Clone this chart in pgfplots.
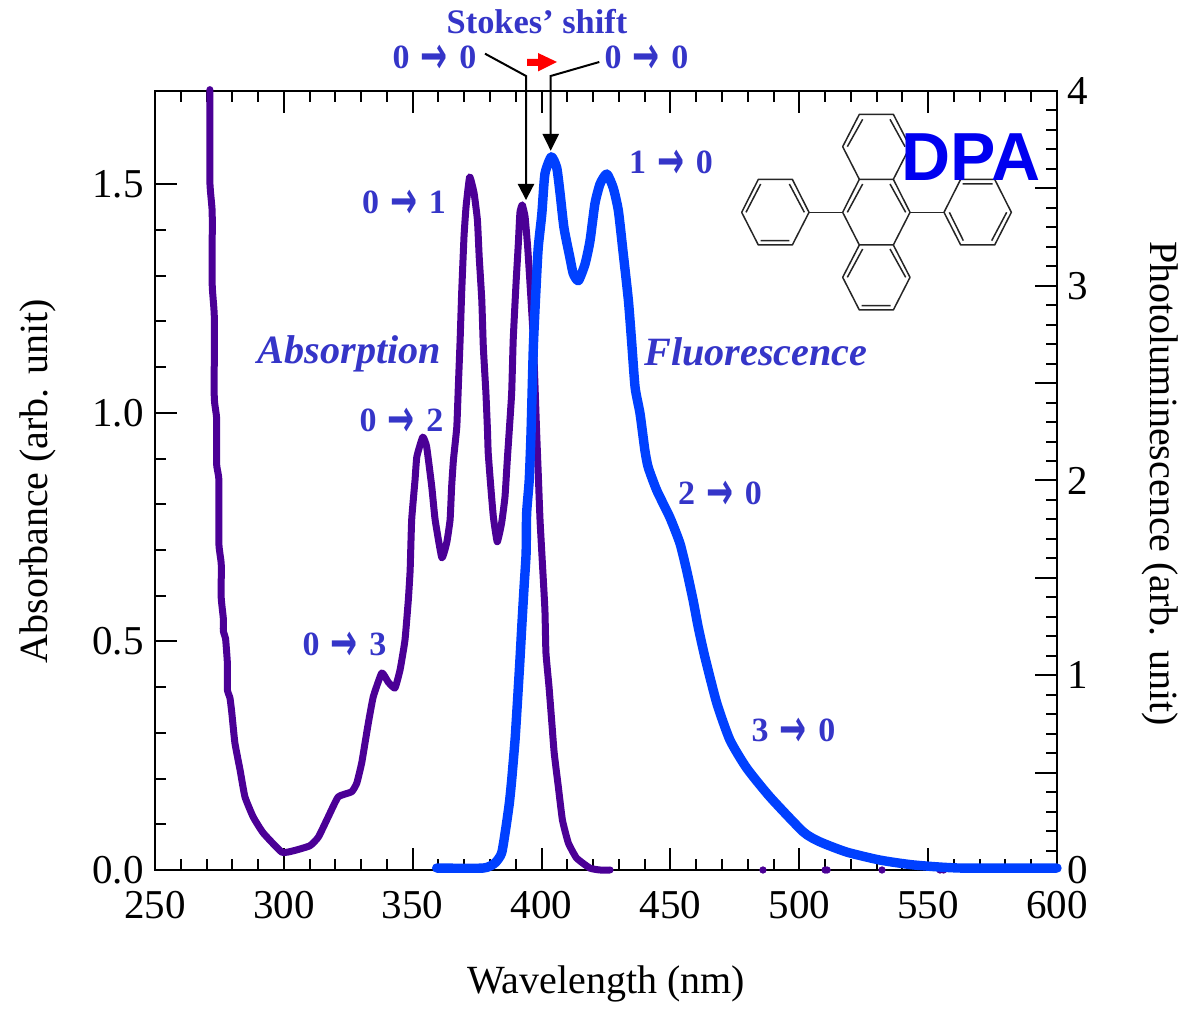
\documentclass[border=0pt]{standalone}
\usepackage{pgfplots}
\pgfplotsset{compat=1.18}
\usepackage{fontspec}
\setmainfont{Liberation Serif}
\newfontfamily\arw{DejaVu Sans}
\newfontfamily\helv{Liberation Sans}
\definecolor{abscol}{RGB}{75,0,150}
\definecolor{plcol}{RGB}{0,64,255}
\definecolor{txtcol}{RGB}{53,53,200}
\newcommand\arr[2]{\fontsize{17}{17}\selectfont\bfseries #1\,\,\raisebox{-0.14em}{\scalebox{0.95}[1.55]{\arw\fontsize{17}{17}\selectfont →}}\,\,#2}
\pgfplotstableread{
wl A
271.3 1.707
271.3 1.505
272.2 1.438
272.2 1.280
273.0 1.212
273.0 1.033
273.9 0.989
273.9 0.888
274.8 0.853
274.8 0.713
275.7 0.670
275.7 0.595
276.5 0.551
276.5 0.523
277.4 0.505
278.1 0.451
278.1 0.394
279.1 0.376
279.8 0.344
281.0 0.278
283.0 0.219
284.9 0.160
288.1 0.116
292.0 0.081
299.2 0.039
303.7 0.042
310.1 0.053
313.4 0.072
317.2 0.116
321.1 0.160
326.3 0.171
328.3 0.190
330.2 0.234
331.5 0.278
332.8 0.322
334.7 0.379
338.0 0.431
340.5 0.411
343.1 0.398
345.1 0.438
347.0 0.503
348.3 0.591
349.0 0.656
349.6 0.766
350.9 0.853
351.6 0.904
353.9 0.947
355.4 0.926
357.4 0.838
358.7 0.766
361.3 0.683
363.2 0.716
364.5 0.766
365.1 0.838
365.8 0.897
367.1 0.969
367.7 1.057
368.4 1.160
369.0 1.263
369.9 1.385
370.7 1.451
372.1 1.516
373.8 1.481
375.1 1.422
375.8 1.341
376.8 1.247
377.4 1.144
378.4 1.044
379.0 0.963
379.3 0.912
380.3 0.838
381.3 0.772
382.8 0.718
384.5 0.759
385.8 0.816
386.7 0.897
387.4 0.956
388.4 1.044
389.0 1.160
390.1 1.284
391.0 1.372
391.6 1.438
392.5 1.455
393.6 1.429
394.6 1.363
395.5 1.284
396.8 1.160
398.1 0.956
398.7 0.869
399.4 0.766
400.4 0.663
401.3 0.569
401.7 0.475
402.9 0.400
403.9 0.328
404.9 0.256
406.5 0.182
408.1 0.109
410.4 0.059
413.6 0.026
418.8 0.004
422.7 0
426.6 0
}\absdata
\pgfplotstableread{
wl A
485.9 0
510.0 0
510.8 0
532.1 0
554.6 0
556.0 0
}\absdots
\pgfplotstableread{
wl P
359.3 0.010
377.4 0.010
381.9 0.036
384.5 0.087
386.2 0.221
387.5 0.344
388.4 0.462
389.7 0.667
390.6 0.856
391.6 1.077
392.3 1.246
393.2 1.451
394.0 1.626
394.2 1.831
395.2 2.000
395.9 2.241
396.8 2.682
397.8 2.974
398.7 3.195
400.1 3.369
401.3 3.574
403.8 3.662
405.9 3.605
407.2 3.472
408.7 3.297
411.0 3.144
412.3 3.062
414.3 3.026
416.9 3.113
418.8 3.231
420.7 3.421
422.7 3.523
425.3 3.574
427.8 3.503
429.8 3.385
431.7 3.164
433.7 2.923
435.0 2.703
436.3 2.477
438.2 2.344
440.1 2.154
441.4 2.067
444.7 1.949
449.8 1.810
453.7 1.677
456.3 1.538
458.8 1.385
460.8 1.246
463.4 1.092
468.0 0.856
473.1 0.667
479.6 0.523
488.7 0.374
501.6 0.195
508.1 0.144
518.4 0.092
531.3 0.051
544.3 0.026
562.4 0.010
600.0 0.010
}\pldata
\pgfplotsset{
  base/.style={
    at={(77.5pt,68.5pt)}, anchor=origin,
    scale only axis, width=451pt, height=389.5pt,
    axis line style={line width=1pt}, clip=false,
    xmin=250, xmax=600,
    tick align=inside,
    tick style={black, line width=1pt},
    major tick length=11pt, minor tick length=5.5pt,
    /pgf/number format/assume math mode=true,
    tick label style={font=\fontsize{20.5}{20.5}\selectfont},
    label style={font=\fontsize{20}{20}\selectfont},
  }
}
\begin{document}
\begin{tikzpicture}[x=1pt,y=1pt]
\path (0,0) rectangle (600,503.5);
\begin{axis}[base,
  ymin=0, ymax=1.704,
  xtick={250,300,...,600}, minor x tick num=4,
  xtick pos=both,
  ytick={0,0.5,1,1.5}, minor y tick num=4, ytick pos=left,
  yticklabels={0.0,0.5,1.0,1.5},
  xticklabel style={yshift=-7pt},
  yticklabel style={xshift=-2.2pt},
  xlabel={Wavelength (nm)},
  xlabel style={at={(axis description cs:0.5,-0.146)},anchor=center},
  ylabel={Absorbance (arb. unit)},
  ylabel style={at={(axis description cs:-0.130,0.499)},anchor=center},
]
\addplot[abscol, line width=3.5pt, line cap=round, line join=round, smooth, tension=0.25] table[x=wl,y=A] {\absdata};
\addplot[only marks, mark=*, mark size=1.6pt, abscol] table[x=wl,y=A] {\absdots};
\end{axis}
\begin{axis}[base,
  axis x line=none, axis y line*=right,
  ymin=0, ymax=4,
  ytick={0,0.5,...,4}, minor y tick num=4,
  yticklabels={0,,1,,2,,3,,4},
  yticklabel style={xshift=1.5pt},
  ylabel={Photoluminescence (arb. unit)},
  ylabel style={at={(axis description cs:1.114,0.496)},anchor=center,rotate=180},
]
\addplot[plcol, line width=4.7pt, line cap=round, line join=round, smooth, tension=0.35] table[x=wl,y=P] {\pldata};
\end{axis}
\begin{scope}[shift={(0,503.5)},x=0.5pt,y=-0.5pt]
  \begin{scope}[shift={(720,80)},x=0.16667pt,y=-0.16667pt,black!85,line width=0.75pt,line join=round]
    \draw (418,103)--(520,103)--(570,200)--(520,298)--(418,298)--(368,200)--cycle;
    \draw (520,298)--(570,397)--(520,495)--(418,495)--(368,397)--(418,298);
    \draw (520,495)--(570,592)--(520,690)--(418,690)--(368,592)--(418,495);
    \draw (115,298)--(217,298)--(267,397)--(217,495)--(115,495)--(65,397)--cycle;
    \draw (722,298)--(824,298)--(874,397)--(824,495)--(722,495)--(672,397)--cycle;
    \draw (267,397)--(368,397) (570,397)--(672,397);
    \draw (428,118)--(382,200) (510,118)--(555,200);
    \draw (428,312)--(382,397) (510,312)--(557,397);
    \draw (428,507)--(382,592) (510,507)--(557,592) (425,677)--(512,677);
    \draw (122,312)--(78,397) (208,312)--(253,397) (122,482)--(208,482);
    \draw (728,312)--(818,312) (688,397)--(730,482) (860,397)--(815,482);
  \end{scope}
  \node[text=blue!94!black,font=\helv\fontsize{34}{34}\selectfont\bfseries,anchor=center] at (971,157) {DPA};
  \begin{scope}[txtcol]
  \node[font=\fontsize{17.2}{17.2}\selectfont\bfseries,anchor=center] at (537,22) {Stokes’ shift};
  \node at (434.5,59) {\arr{0}{0}};
  \node at (646.5,59) {\arr{0}{0}};
  \node at (404,204) {\arr{0}{1}};
  \node at (401.5,422) {\arr{0}{2}};
  \node at (344.5,646) {\arr{0}{3}};
  \node at (671,164) {\arr{1}{0}};
  \node at (720,495) {\arr{2}{0}};
  \node at (793.5,732) {\arr{3}{0}};
  \node[font=\fontsize{20.1}{20.1}\selectfont\bfseries\itshape] at (349.5,354) {Absorption};
  \node[font=\fontsize{20.1}{20.1}\selectfont\bfseries\itshape] at (756,352) {Fluorescence};
  \end{scope}
  \fill[red] (527,59)--(538,59)--(538,53)--(557,62)--(538,71.5)--(538,66)--(527,66)--cycle;
  \draw[black,line width=1pt] (485,53.7)--(526,76)--(526,186);
  \fill[black] (517.7,184)--(534.3,184)--(526,200)--cycle;
  \draw[black,line width=1pt] (599.3,62)--(550.7,76)--(550.7,136);
  \fill[black] (542.4,134)--(559,134)--(550.7,150.7)--cycle;
\end{scope}
\end{tikzpicture}
\end{document}
